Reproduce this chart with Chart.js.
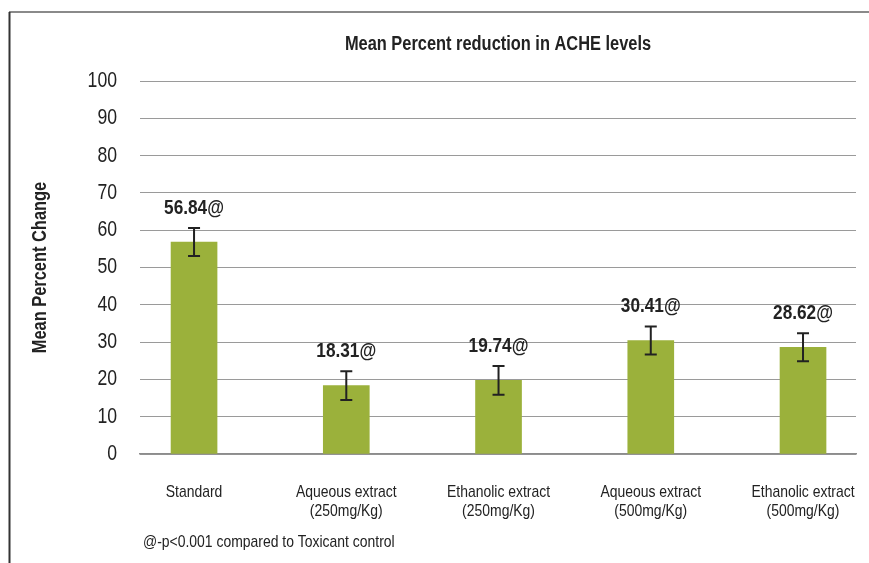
<!DOCTYPE html>
<html>
<head>
<meta charset="utf-8">
<script src="https://cdn.jsdelivr.net/npm/chart.js@4/dist/chart.umd.min.js"></script>
<style>
  html, body { margin: 0; padding: 0; background: #fff; }
  #wrap { width: 869px; height: 563px; position: relative; }
</style>
</head>
<body>
<div id="wrap"><canvas id="chart" width="869" height="563"></canvas></div>
<script>
// Groups on the category axis (two-line labels)
const categories = [
  ['Standard'],
  ['Aqueous extract', '(250mg/Kg)'],
  ['Ethanolic extract', '(250mg/Kg)'],
  ['Aqueous extract', '(500mg/Kg)'],
  ['Ethanolic extract', '(500mg/Kg)']
];
// Mean percent reduction in ACHE levels
const meanChange = [56.84, 18.31, 19.74, 30.41, 28.62];
// Half-length of each error bar
const errorHalf = [3.75, 3.85, 3.85, 3.75, 3.75];
// Significance mark appended to each value label
const sigMark = '@';
const yTicks = [0, 10, 20, 30, 40, 50, 60, 70, 80, 90, 100];
const chartTitle = 'Mean Percent reduction in ACHE levels';
const yTitle = 'Mean Percent Change';
const footnote = '@-p<0.001 compared to Toxicant control';

const FAMILY = "'Liberation Sans', Arial, Helvetica, sans-serif";
const SQUEEZE = 0.82;   // horizontal compression for a condensed face
const INK = '#222';

// Draw a line of condensed text anchored at (x, y)
function narrowText(ctx, text, x, y, font, align, rotate) {
  ctx.save();
  ctx.translate(x, y);
  if (rotate) ctx.rotate(rotate);
  ctx.scale(SQUEEZE, 1);
  ctx.font = font;
  ctx.fillStyle = INK;
  ctx.textAlign = align;
  ctx.textBaseline = 'middle';
  ctx.fillText(text, 0, 0);
  ctx.restore();
}

// Frame, titles, axis labels and footnote
const textPlugin = {
  id: 'texts',
  afterDraw(chart) {
    const ctx = chart.ctx;
    const xs = chart.scales.x, ys = chart.scales.y;
    const area = chart.chartArea;
    ctx.save();
    ctx.lineWidth = 2;
    ctx.strokeStyle = '#8a8a8a';
    ctx.beginPath(); ctx.moveTo(9, 12); ctx.lineTo(869, 12); ctx.stroke();
    ctx.strokeStyle = '#333';
    ctx.beginPath(); ctx.moveTo(9.5, 12); ctx.lineTo(9.5, 563); ctx.stroke();
    ctx.restore();

    narrowText(ctx, chartTitle, (area.left + area.right) / 2, 44, 'bold 20px ' + FAMILY, 'center');
    narrowText(ctx, yTitle, 40, (area.top + area.bottom) / 2, 'bold 20px ' + FAMILY, 'center', -Math.PI / 2);

    yTicks.forEach(v => {
      narrowText(ctx, String(v), area.left - 23, ys.getPixelForValue(v), '21.5px ' + FAMILY, 'right');
    });
    categories.forEach((lines, i) => {
      const x = xs.getPixelForValue(i);
      lines.forEach((line, j) => {
        narrowText(ctx, line, x, area.bottom + 38 + j * 19, '17px ' + FAMILY, 'center');
      });
    });
    narrowText(ctx, footnote, 143, 542, '17px ' + FAMILY, 'left');
  }
};

// Error bars and value labels, positioned through the chart's scales
const errorLabelPlugin = {
  id: 'errorLabels',
  afterDatasetsDraw(chart) {
    const ctx = chart.ctx;
    const xs = chart.scales.x, ys = chart.scales.y;
    meanChange.forEach((v, i) => {
      const x = xs.getPixelForValue(i);
      const yTop = ys.getPixelForValue(v + errorHalf[i]);
      const yBot = ys.getPixelForValue(v - errorHalf[i]);
      ctx.save();
      ctx.strokeStyle = INK;
      ctx.lineWidth = 2;
      ctx.beginPath();
      ctx.moveTo(x, yTop); ctx.lineTo(x, yBot);
      ctx.moveTo(x - 6, yTop); ctx.lineTo(x + 6, yTop);
      ctx.moveTo(x - 6, yBot); ctx.lineTo(x + 6, yBot);
      ctx.stroke();
      ctx.restore();
      narrowText(ctx, v.toFixed(2) + sigMark, x, yTop - 20, 'bold 21px ' + FAMILY, 'center');
    });
  }
};

new Chart(document.getElementById('chart'), {
  type: 'bar',
  data: {
    datasets: [{
      data: meanChange.map((v, i) => ({ x: i, y: v })),
      backgroundColor: '#9bb13b',
      borderWidth: 0,
      barThickness: 46
    }]
  },
  options: {
    responsive: false,
    animation: false,
    layout: { padding: { left: 0, right: 13, top: 81, bottom: 0 } },
    plugins: {
      legend: { display: false },
      tooltip: { enabled: false },
      title: { display: false }
    },
    scales: {
      x: {
        type: 'linear',
        offset: false,
        min: -0.355,
        max: 4.348,
        z: 1,
        grid: { display: false },
        border: { display: true, color: '#8c8c8c', width: 1.5 },
        afterBuildTicks(scale) {
          scale.ticks = categories.map((_, i) => ({ value: i }));
        },
        afterFit(scale) { scale.height = 109; },
        ticks: { display: false }
      },
      y: {
        min: 0,
        max: 100,
        afterBuildTicks(scale) {
          scale.ticks = yTicks.map(v => ({ value: v }));
        },
        afterFit(scale) { scale.width = 140; },
        grid: { color: '#9a9a9a', lineWidth: 1, drawTicks: false },
        border: { display: false },
        ticks: { display: false }
      }
    }
  },
  plugins: [textPlugin, errorLabelPlugin]
});
</script>
</body>
</html>
